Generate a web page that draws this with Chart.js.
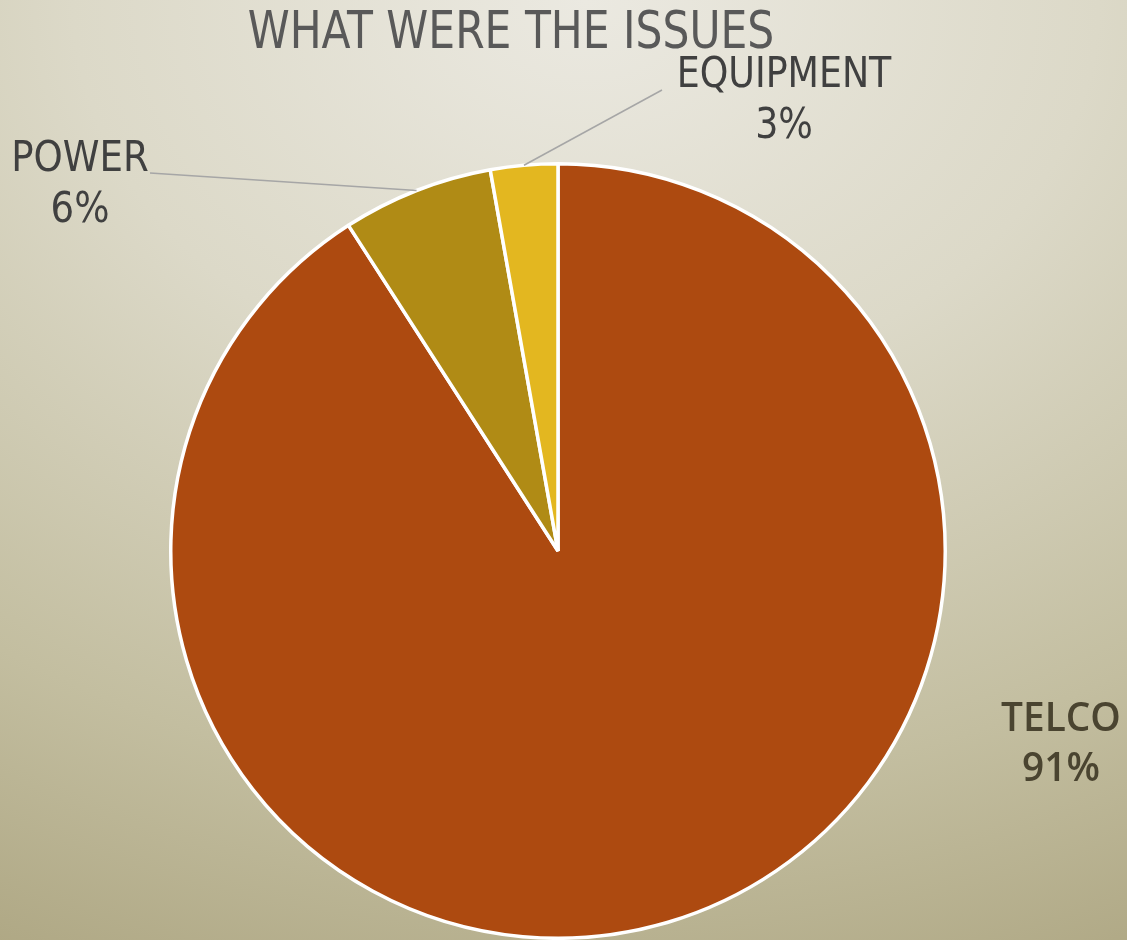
<!DOCTYPE html>
<html>
<head>
<meta charset="utf-8">
<script src="https://cdn.jsdelivr.net/npm/chart.js@4.4.1/dist/chart.umd.min.js"></script>
<style>
  html, body { margin: 0; padding: 0; }
  body {
    width: 1127px; height: 940px; overflow: hidden;
    background: radial-gradient(ellipse 130% 120% at 52% 0%, #EBE9E1 0%, #DCD9C8 35%, #C3BEA0 70%, #A9A17C 100%);
  }
  #wrap { position: absolute; left: 0; top: 0; width: 1127px; height: 940px; }
  #title {
    position: absolute; left: 0; width: 1022px; top: 1px; text-align: center;
    font-family: "Liberation Sans Narrow", "DejaVu Sans Condensed", sans-serif;
    font-size: 51px; color: #595959; margin: 0; font-weight: normal;
    transform: scaleX(0.925); transform-origin: 511px 0;
  }
</style>
</head>
<body>
<div id="wrap">
  <canvas id="pieChart" width="1127" height="940"></canvas>
  <h1 id="title">WHAT WERE THE ISSUES</h1>
</div>
<script>
// Data
const categories = ["TELCO", "POWER", "EQUIPMENT"];
const shares = [90.9, 6.3, 2.8];
const sliceColors = ["#AD4A10", "#B08B15", "#E3B720"];

// Where each label sits and how its text looks (layout, not data)
const narrow = "43px 'Liberation Sans Narrow', 'DejaVu Sans Condensed', sans-serif";
const labelStyle = [
  { x: 1061, y: 720, font: "600 40px 'Open Sans', sans-serif", color: "#4A4430", gap: 50, sx: 0.97, leader: null },
  { x: 80, y: 160, font: narrow, color: "#404040", gap: 51, sx: 0.96, leader: [150, 173] },
  { x: 784, y: 76, font: narrow, color: "#404040", gap: 51, sx: 0.94, leader: [662, 90] }
];

// Draws leader lines and the labels for each slice
const sliceLabels = {
  id: 'sliceLabels',
  afterDatasetsDraw(chart) {
    const ctx = chart.ctx;
    const meta = chart.getDatasetMeta(0);
    const total = shares.reduce((a, b) => a + b, 0);
    meta.data.forEach((arc, i) => {
      const st = labelStyle[i];
      const p = arc.getProps(['x', 'y', 'startAngle', 'endAngle', 'outerRadius'], true);
      const mid = (p.startAngle + p.endAngle) / 2;
      ctx.save();
      if (st.leader) {
        const ex = p.x + Math.cos(mid) * p.outerRadius;
        const ey = p.y + Math.sin(mid) * p.outerRadius;
        ctx.strokeStyle = '#A6A6A6';
        ctx.lineWidth = 1.5;
        ctx.beginPath();
        ctx.moveTo(st.leader[0], st.leader[1]);
        ctx.lineTo(ex, ey);
        ctx.stroke();
      }
      ctx.font = st.font;
      ctx.fillStyle = st.color;
      ctx.textAlign = 'center';
      ctx.textBaseline = 'middle';
      ctx.translate(st.x, st.y);
      ctx.scale(st.sx, 1);
      ctx.fillText(categories[i], 0, 0);
      ctx.fillText(Math.round(shares[i] / total * 100) + '%', 0, st.gap);
      ctx.restore();
    });
  }
};

new Chart(document.getElementById('pieChart'), {
  type: 'pie',
  data: {
    labels: categories,
    datasets: [{
      data: shares,
      backgroundColor: sliceColors,
      borderColor: '#FFFFFF',
      borderWidth: 3.5
    }]
  },
  options: {
    responsive: false,
    animation: false,
    layout: { padding: { left: 169, right: 180, top: 162, bottom: 0 } },
    plugins: {
      legend: { display: false },
      tooltip: { enabled: false }
    }
  },
  plugins: [sliceLabels]
});
</script>
</body>
</html>
